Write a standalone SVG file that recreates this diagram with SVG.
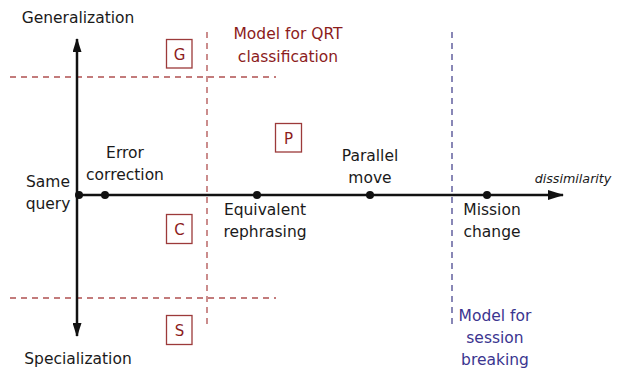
<svg xmlns="http://www.w3.org/2000/svg" width="620" height="368" viewBox="0 0 620 368">
<style>
text{font-family:"DejaVu Sans","Liberation Sans",sans-serif;font-size:15.5px;fill:#1a1a1a;text-anchor:middle}
.red{fill:#8c1c1c}
.blue{fill:#3b3590}
.it{font-style:italic;font-size:12.7px}
.box rect{fill:#fff;stroke:#9c3a3a;stroke-width:1.3}
.box text{fill:#8c1c1c;font-size:15px}
.rdash{stroke:#b05050;stroke-width:1.3;stroke-dasharray:6 5;fill:none}
.bdash{stroke:#4a4890;stroke-width:1.3;stroke-dasharray:6 5;fill:none}
.axis{stroke:#111;stroke-width:2.5;fill:none}
.dot{fill:#111}
</style>
<defs>
<marker id="ah" viewBox="0 0 16 10" refX="15" refY="5" markerWidth="16" markerHeight="10" markerUnits="userSpaceOnUse" orient="auto">
<path d="M0,0 L16,5 L0,10 Z" fill="#111"/>
</marker>
<marker id="av" viewBox="0 0 14 9" refX="13" refY="4.5" markerWidth="14" markerHeight="9" markerUnits="userSpaceOnUse" orient="auto">
<path d="M0,0 L14,4.5 L0,9 Z" fill="#111"/>
</marker>
</defs>
<g id="connectors">
<line class="rdash" x1="10" y1="77" x2="276" y2="77"/>
<line class="rdash" x1="10" y1="298" x2="276" y2="298"/>
<line class="rdash" x1="207" y1="32" x2="207" y2="328"/>
<line class="bdash" x1="452" y1="32" x2="452" y2="328"/>
<line class="axis" x1="77" y1="195" x2="77" y2="39" marker-end="url(#av)"/>
<line class="axis" x1="77" y1="195" x2="77" y2="336" marker-end="url(#av)"/>
<line class="axis" x1="77" y1="195" x2="563" y2="195" marker-end="url(#ah)"/>
</g>
<g id="points">
<circle class="dot" cx="79" cy="195" r="4"/>
<circle class="dot" cx="105" cy="195" r="4"/>
<circle class="dot" cx="257" cy="195" r="4"/>
<circle class="dot" cx="370" cy="195" r="4"/>
<circle class="dot" cx="487" cy="195" r="4"/>
</g>
<g id="box-G" class="box"><rect x="166.5" y="39.5" width="25.5" height="28.5"/><text x="179.5" y="59.5">G</text></g>
<g id="box-P" class="box"><rect x="275.5" y="123.5" width="26" height="28.5"/><text x="288.5" y="143.5">P</text></g>
<g id="box-C" class="box"><rect x="166.5" y="214.5" width="25.5" height="29"/><text x="179.5" y="234.5">C</text></g>
<g id="box-S" class="box"><rect x="166.5" y="315.5" width="25.5" height="29"/><text x="179.5" y="335.5">S</text></g>
<g id="label-generalization"><text x="78" y="23">Generalization</text></g>
<g id="label-specialization"><text x="78" y="364">Specialization</text></g>
<g id="label-qrt"><text class="red" x="288" y="39">Model for QRT</text><text class="red" x="288" y="62">classification</text></g>
<g id="label-same"><text x="48" y="187">Same</text><text x="48" y="209">query</text></g>
<g id="label-error"><text x="125" y="158">Error</text><text x="125" y="180">correction</text></g>
<g id="label-equiv"><text x="265" y="215">Equivalent</text><text x="265" y="237">rephrasing</text></g>
<g id="label-parallel"><text x="370" y="161">Parallel</text><text x="370" y="183">move</text></g>
<g id="label-mission"><text x="492" y="215">Mission</text><text x="492" y="237">change</text></g>
<g id="label-dissim"><text class="it" x="573" y="183">dissimilarity</text></g>
<g id="label-session"><text class="blue" x="495" y="321">Model for</text><text class="blue" x="495" y="343">session</text><text class="blue" x="495" y="365">breaking</text></g>
</svg>
